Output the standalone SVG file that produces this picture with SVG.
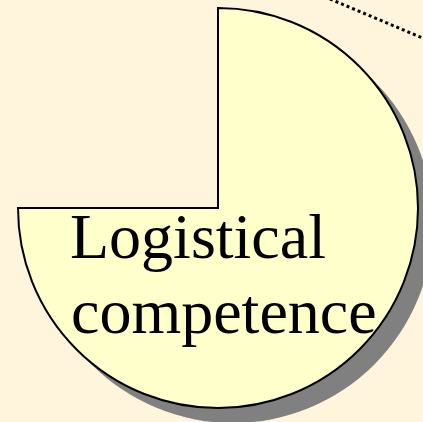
<svg xmlns="http://www.w3.org/2000/svg" width="423" height="422" viewBox="0 0 423 422">
<style>
.pie{fill:#FFFFCC;stroke:#000;stroke-width:2}
.shadow{fill:#808080}
.lbl{font-family:"Liberation Serif","Times New Roman",serif;font-size:64px;fill:#000}
</style>
<rect width="423" height="422" fill="#FFF5DC"/>
<g id="connectors">
<line x1="330" y1="-1" x2="426" y2="39.5" stroke="#000" stroke-width="3" stroke-dasharray="3 3"/>
</g>
<g id="logistical-competence">
<path class="shadow" d="M233,223 L233,23 A200,200 0 1,1 33,223 Z"/>
<path class="pie" d="M218,208 L218,8 A200,200 0 1,1 18,208 Z"/>
<text class="lbl" x="70" y="258">Logistical</text>
<text class="lbl" x="71" y="333">competence</text>
</g>
</svg>
